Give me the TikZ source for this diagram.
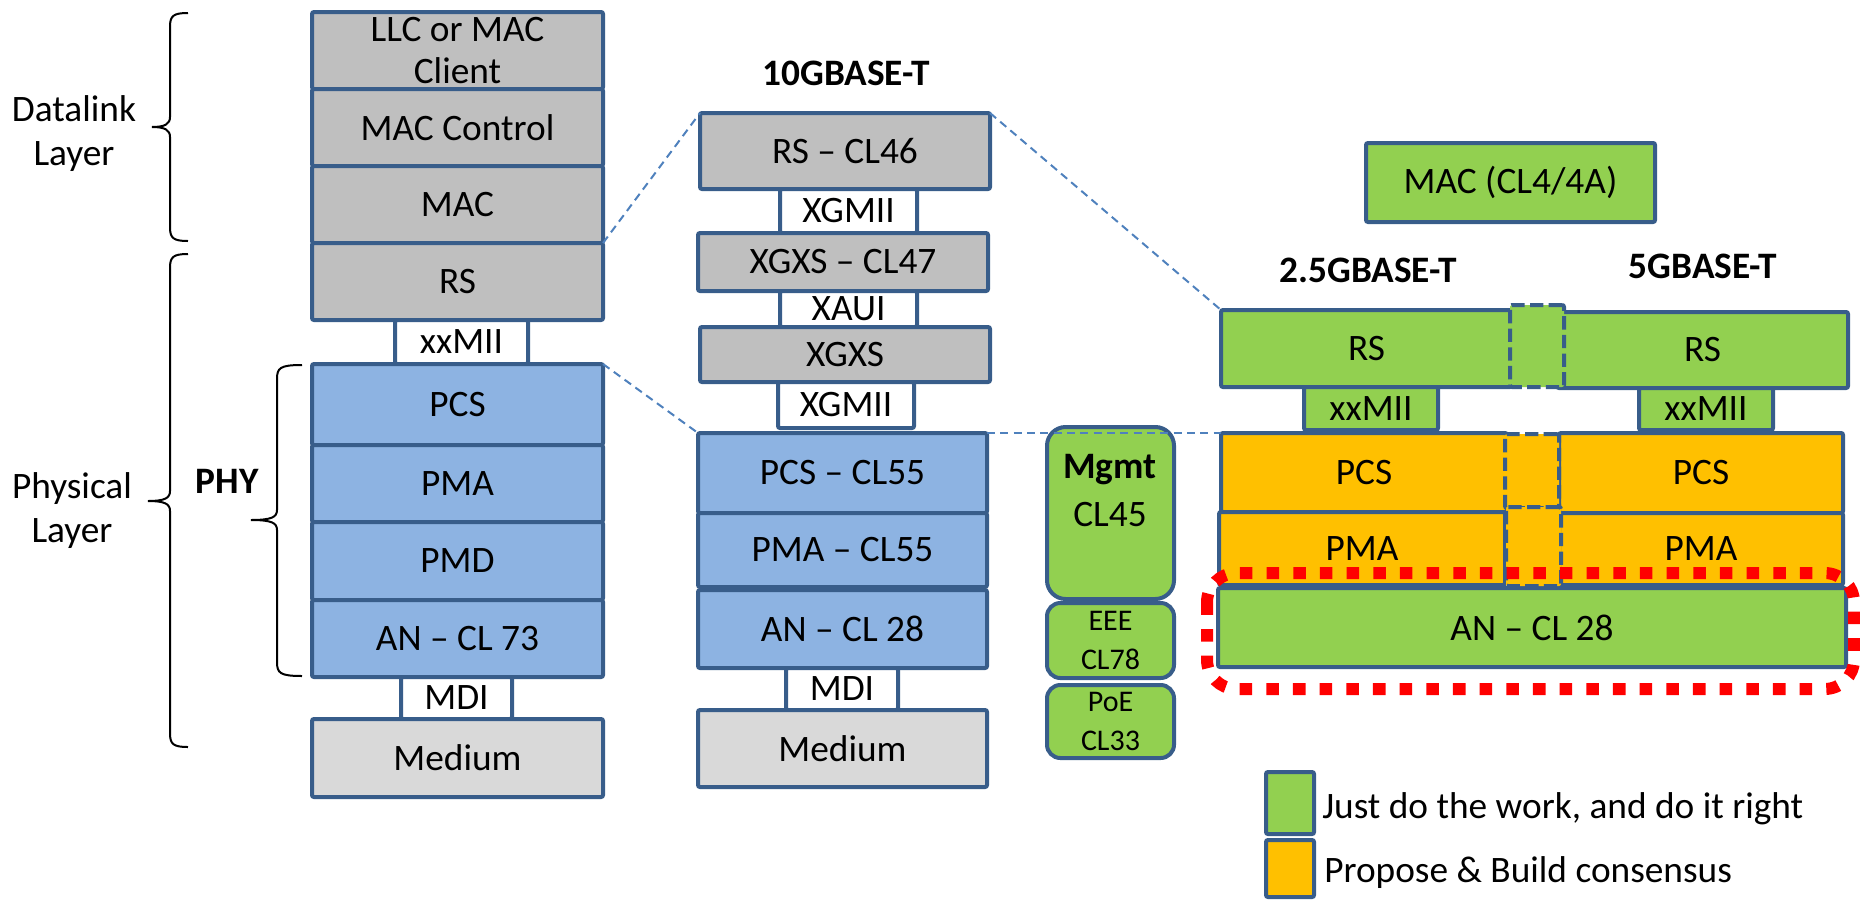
\documentclass[tikz,border=0pt]{standalone}
\usepackage{fontspec}
\setmainfont{Carlito}
\definecolor{edge}{HTML}{385D8A}
\definecolor{zoomblue}{HTML}{4F81BD}
\definecolor{graylayer}{HTML}{BFBFBF}
\definecolor{mediumgray}{HTML}{D9D9D9}
\definecolor{bluelayer}{HTML}{8DB3E2}
\definecolor{greenlayer}{HTML}{92D050}
\definecolor{orangelayer}{HTML}{FFC000}
\definecolor{hilite}{HTML}{FF0000}

% layer block given by its corners (px units): name, x1, y1, x2, y2, style, text
\newcommand\blk[7]{%
  \node[#6,minimum width={(#4-#2)*0.75pt},minimum height={(#5-#3)*0.75pt}]
    (#1) at ({(#2+#4)/2},{(#3+#5)/2}) {#7};}

% curly brace: vertical x, tip x, top y, middle y, bottom y, middle tip x
\newcommand\brc[6]{%
  \draw[brace] (#2,#3) .. controls ({#1+3},#3) and (#1,{#3+3}) .. (#1,{#3+14})
    -- (#1,{#4-10}) .. controls (#1,{#4-3}) and ({#1-5},#4) .. (#6,#4)
    .. controls ({#1-5},#4) and (#1,{#4+3}) .. (#1,{#4+10})
    -- (#1,{#5-14}) .. controls (#1,{#5-3}) and ({#1+3},#5) .. (#2,#5);}

\tikzset{
  txt/.style={font=\fontsize{28}{32}\selectfont, align=center, inner sep=0pt, text=black},
  box/.style={txt, draw=edge, line width=3pt, rounded corners=1.5pt, outer sep=0pt},
  gbox/.style={box, fill=graylayer},
  mbox/.style={box, fill=mediumgray},
  wbox/.style={box, fill=white},
  bbox/.style={box, fill=bluelayer},
  grbox/.style={box, fill=greenlayer},
  obox/.style={box, fill=orangelayer},
  sidebox/.style={box, fill=greenlayer, rounded corners=14pt},
  smallside/.style={box, fill=greenlayer, rounded corners=10pt,
                    font=\fontsize{22.5}{29}\selectfont},
  shared/.style={box, dash pattern=on 10pt off 4pt},
  zoomline/.style={draw=zoomblue, line width=1.5pt, dash pattern=on 6pt off 4pt},
  brace/.style={draw=black, line width=1.5pt},
  title/.style={txt, font=\fontsize{28}{32}\selectfont\bfseries},
}

\begin{document}
\begin{tikzpicture}[x=0.75pt,y=-0.75pt]
\useasboundingbox (0,0) rectangle (1860,900);

% ---- generic layer stack ----
\blk{llc}{312}{12}{603}{89}{gbox}{LLC or MAC\\Client}
\blk{lmacc}{312}{89}{603}{166}{gbox}{MAC Control}
\blk{lmac}{312}{166}{603}{243}{gbox}{MAC}
\blk{lrs}{312}{243}{603}{320}{gbox}{RS}
\blk{lxx}{395}{320}{528}{364}{wbox}{xxMII}
\blk{lpcs}{312}{364}{603}{445}{bbox}{PCS}
\blk{lpma}{312}{445}{603}{522}{bbox}{PMA}
\blk{lpmd}{312}{522}{603}{600}{bbox}{PMD}
\blk{lan}{312}{600}{603}{677}{bbox}{AN – CL 73}
\blk{lmdi}{401}{677}{512}{719}{wbox}{MDI}
\blk{lmed}{312}{719}{603}{797}{mbox}{Medium}

% braces and layer names
\brc{170}{188}{13}{127}{241}{152}
\brc{170}{188}{254}{501}{747}{148}
\brc{277}{302}{365}{520}{676}{251}
\node[txt, font=\fontsize{28}{33}\selectfont] (dll) at (74,134) {Datalink\\Layer};
\node[txt, font=\fontsize{28}{33}\selectfont] (phl) at (72,511) {Physical\\Layer};
\node[title, anchor=base] (phy) at (227,493) {PHY};

% ---- 10GBASE-T stack ----
\node[title, anchor=base] (t10) at (846,85) {10GBASE-T};
\blk{rs46}{700}{113}{990}{189}{gbox}{RS – CL46}
\blk{xg1}{780}{189}{917}{233}{wbox}{XGMII}
\blk{xgxs47}{698}{233}{988}{291}{gbox}{XGXS – CL47}
\blk{xaui}{780}{291}{917}{327}{wbox}{XAUI}
\blk{xgxs}{700}{327}{990}{382}{gbox}{XGXS}
\blk{xg2}{778}{382}{914}{428}{wbox}{XGMII}
\blk{pcs55}{698}{433}{987}{513}{bbox}{PCS – CL55}
\blk{pma55}{698}{513}{987}{587}{bbox}{PMA – CL55}
\blk{an28}{698}{590}{987}{668}{bbox}{AN – CL 28}
\blk{mdi2}{786}{668}{898}{710}{wbox}{MDI}
\blk{med2}{698}{710}{987}{787}{mbox}{Medium}

% ---- management column ----
\blk{mgmt}{1047}{427}{1174}{599}{sidebox}{}
\node[txt, font=\fontsize{28}{36}\selectfont] (mgmtlbl) at (1110,491) {\textbf{Mgmt}\\CL45};
\blk{eee}{1047}{603}{1174}{678}{smallside}{EEE\\CL78}
\blk{poe}{1047}{685}{1174}{758}{smallside}{PoE\\CL33}

% ---- 2.5G / 5G stacks ----
\blk{mac4}{1366}{143}{1655}{222}{grbox}{MAC (CL4/4A)}
\node[title, anchor=base] (t25) at (1368,282) {2.5GBASE-T};
\node[title, anchor=base] (t5) at (1703,278) {5GBASE-T};
\blk{rsA}{1221}{310}{1512}{387}{grbox}{RS}
\blk{rsB}{1557}{312}{1848}{388}{grbox}{RS}
\blk{xxA}{1304}{387}{1438}{430}{grbox}{xxMII}
\blk{xxB}{1639}{388}{1773}{430}{grbox}{xxMII}
\blk{pcsA}{1221}{433}{1507}{512}{obox}{PCS}
\blk{pcsB}{1559}{433}{1843}{513}{obox}{PCS}
\blk{pmaA}{1219}{512}{1505}{585}{obox}{PMA}
\blk{pmaB}{1559}{513}{1843}{585}{obox}{PMA}
\blk{anR}{1218}{588}{1846}{667}{grbox}{AN – CL 28}
\blk{rsmid}{1510}{305}{1564}{387}{shared, fill=greenlayer}{}
\blk{pcsmid}{1505}{434}{1559}{508}{shared, fill=orangelayer}{}
\blk{pmamid}{1506}{507}{1561}{586}{shared, fill=orangelayer}{}

% highlight around auto-negotiation
\draw[hilite, line width=9pt, dash pattern=on 9.4pt off 10.6pt, rounded corners=22pt]
  (1207,573) rectangle (1854,689);

% ---- zoom-out guide lines ----
\draw[zoomline] (lmac.south east) -- (rs46.north west);
\draw[zoomline] (lpcs.north east) -- (pcs55.north west);
\draw[zoomline] (rs46.north east) -- (rsA.north west);
\draw[zoomline] (pcs55.north east) -- (pcsA.north west);

% ---- legend ----
\blk{lgG}{1266}{772}{1314}{834}{grbox}{}
\blk{lgO}{1266}{840}{1314}{897}{obox}{}
\node[txt, anchor=base west] (lgGt) at (1322,818) {Just do the work, and do it right};
\node[txt, anchor=base west] (lgOt) at (1324,882) {Propose \& Build consensus};
\end{tikzpicture}
\end{document}
